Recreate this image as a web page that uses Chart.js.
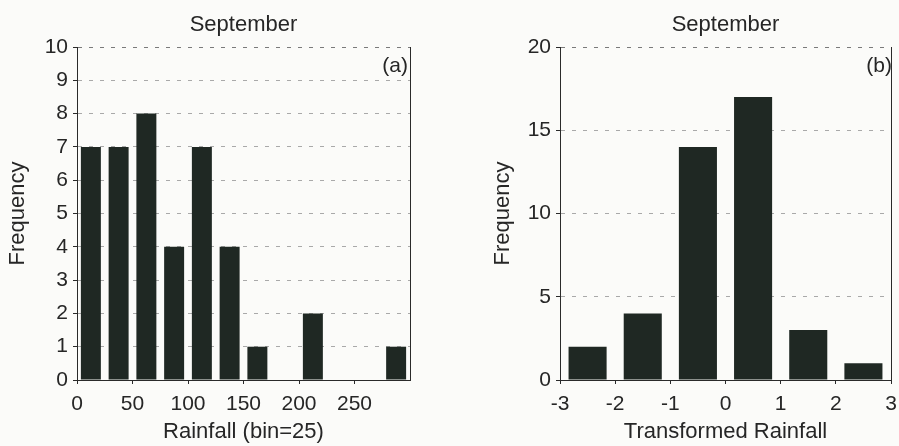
<!DOCTYPE html>
<html>
<head>
<meta charset="utf-8">
<script src="https://cdn.jsdelivr.net/npm/chart.js@4.4.1/dist/chart.umd.min.js"></script>
<style>
  html, body { margin: 0; padding: 0; background: #fbfbf9; }
  #wrap { display: flex; width: 899px; height: 446px; }
  canvas { display: block; }
</style>
</head>
<body>
<div id="wrap">
  <canvas id="histA" width="450" height="446"></canvas>
  <canvas id="histB" width="449" height="446"></canvas>
</div>
<script>
// ---- data ----
const monthTitle = 'September';

// Panel (a): raw rainfall, bins of 25
const rainfallBinCenters = [12.5, 37.5, 62.5, 87.5, 112.5, 137.5, 162.5, 187.5, 212.5, 237.5, 262.5, 287.5];
const rainfallCounts     = [7, 7, 8, 4, 7, 4, 1, 0, 2, 0, 0, 1];
const rainfallTicks      = [0, 50, 100, 150, 200, 250];
const frequencyTicksA    = [0, 1, 2, 3, 4, 5, 6, 7, 8, 9, 10];

// Panel (b): transformed rainfall, unit bins
const transformedBinCenters = [-2.5, -1.5, -0.5, 0.5, 1.5, 2.5];
const transformedCounts     = [2, 4, 14, 17, 3, 1];
const transformedTicks      = [-3, -2, -1, 0, 1, 2, 3];
const frequencyTicksB       = [0, 5, 10, 15, 20];

// ---- styling ----
const FONT = "'Liberation Sans', Arial, sans-serif";
const TEXT = '#262626';
const BAR = '#1f2823';
const AXIS = '#2a2a2a';

// Corner label such as "(a)"
const panelLabel = {
  id: 'panelLabel',
  afterDraw(chart, args, opts) {
    const { ctx, chartArea } = chart;
    ctx.save();
    ctx.font = `21px ${FONT}`;
    ctx.fillStyle = TEXT;
    ctx.textAlign = 'right';
    ctx.textBaseline = 'middle';
    ctx.fillText(opts.text, chartArea.right + opts.dx, chartArea.top + opts.dy);
    ctx.restore();
  }
};

function makeHistogram(id, o) {
  const points = o.centers.map((c, i) => ({ x: c, y: o.counts[i] }));
  const yMax = o.yTicks[o.yTicks.length - 1];
  return new Chart(document.getElementById(id), {
    type: 'bar',
    data: {
      datasets: [{
        data: points,
        backgroundColor: BAR,
        borderWidth: 0,
        categoryPercentage: 1,
        barPercentage: o.barPct,
        yAxisID: 'y'
      }]
    },
    plugins: [panelLabel],
    options: {
      responsive: false,
      animation: false,
      layout: { padding: { left: 0, right: o.padRight, top: 0, bottom: 0 } },
      plugins: {
        legend: { display: false },
        tooltip: { enabled: false },
        title: {
          display: true,
          fullSize: false,
          text: monthTitle,
          color: TEXT,
          font: { family: FONT, size: 22, weight: 'normal' },
          padding: { top: 12, bottom: 8.6 }
        },
        panelLabel: { text: o.label, dx: o.labelDx, dy: 19 }
      },
      scales: {
        x: {
          type: 'linear',
          offset: false,
          min: o.xMin,
          max: o.xMax,
          afterBuildTicks: s => { s.ticks = o.xTicks.map(v => ({ value: v })); },
          afterFit: s => { s.height = 66; s.paddingLeft = 0; s.paddingRight = 0; },
          ticks: {
            color: TEXT,
            font: { family: FONT, size: 21 },
            padding: 8,
            maxRotation: 0,
            autoSkip: false,
            callback: v => String(v)
          },
          grid: { offset: false, drawOnChartArea: false, drawTicks: true, tickLength: 4, tickColor: AXIS },
          border: { display: true, color: AXIS, width: 1 },
          title: {
            display: true,
            text: o.xTitle,
            color: TEXT,
            font: { family: FONT, size: 22 },
            padding: { top: 0, bottom: 1 }
          }
        },
        y: {
          type: 'linear',
          position: 'left',
          min: 0,
          max: yMax,
          afterBuildTicks: s => { s.ticks = o.yTicks.map(v => ({ value: v })); },
          afterFit: s => { s.width = o.yAxisWidth; },
          ticks: {
            color: TEXT,
            font: { family: FONT, size: 21 },
            padding: 5
          },
          grid: {
            color: c => {
              const v = c.tick ? c.tick.value : null;
              if (v === 0) return 'rgba(0,0,0,0)';
              if (v === yMax) return '#7a7a7a';
              return '#a9a9a9';
            },
            lineWidth: 1,
            drawTicks: true,
            tickLength: 4,
            tickColor: AXIS
          },
          border: { display: true, color: AXIS, width: 1, dash: [4, 7] },
          title: {
            display: true,
            text: 'Frequency',
            color: TEXT,
            font: { family: FONT, size: 22 },
            padding: { top: o.yTitlePad, bottom: 0 }
          }
        },
        frame: {
          type: 'linear',
          position: 'right',
          min: 0,
          max: yMax,
          afterFit: s => { s.width = 0; },
          ticks: { display: false },
          grid: { drawOnChartArea: false, drawTicks: false },
          border: { display: true, color: AXIS, width: 1 }
        }
      }
    }
  });
}

makeHistogram('histA', {
  centers: rainfallBinCenters,
  counts: rainfallCounts,
  xMin: 0, xMax: 300,
  xTicks: rainfallTicks,
  yTicks: frequencyTicksA,
  xTitle: 'Rainfall (bin=25)',
  label: '(a)',
  labelDx: -2,
  barPct: 0.72,
  yAxisWidth: 77,
  yTitlePad: 5,
  padRight: 40
});

makeHistogram('histB', {
  centers: transformedBinCenters,
  counts: transformedCounts,
  xMin: -3, xMax: 3,
  xTicks: transformedTicks,
  yTicks: frequencyTicksB,
  xTitle: 'Transformed Rainfall',
  label: '(b)',
  labelDx: 1,
  barPct: 0.69,
  yAxisWidth: 110,
  yTitlePad: 40,
  padRight: 8
});
</script>
</body>
</html>
